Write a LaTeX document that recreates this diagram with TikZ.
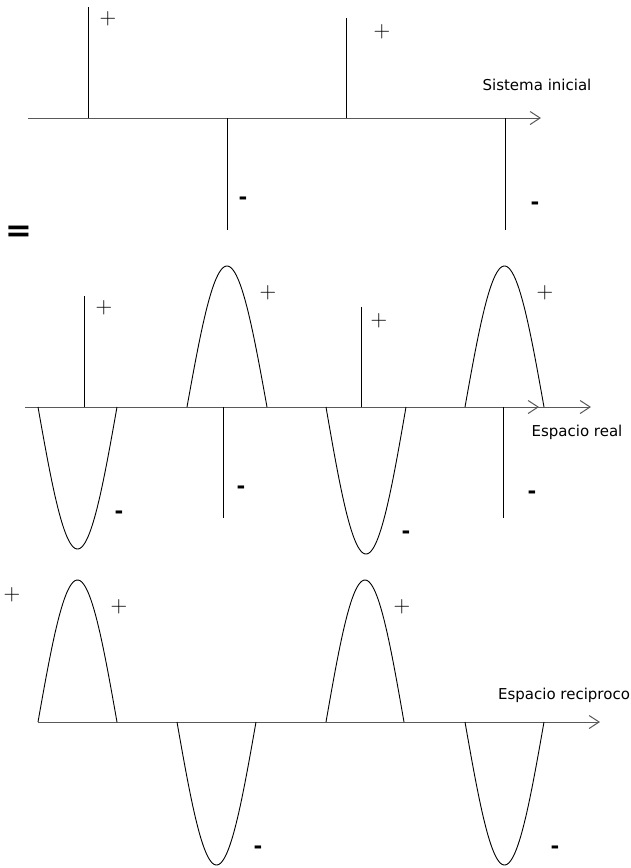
\documentclass[tikz,border=0pt]{standalone}
\usepackage{fontspec}
\newfontfamily\dejavu{DejaVu Sans}
\usetikzlibrary{arrows.meta}
\begin{document}
\begin{tikzpicture}[x=1pt,y=-1pt,
  axis/.style={draw=black!65, line width=1pt, -{Straight Barb[length=10pt,width=13pt]}},
  stem/.style={draw=black, line width=0.9pt},
  wave/.style={draw=black, line width=0.9pt},
  lbl/.style={font=\dejavu\fontsize{15}{18}\selectfont, inner sep=0pt},
  plussign/.style={font=\fontsize{23}{23}\selectfont, inner sep=0pt},
  minussign/.style={font=\dejavu\bfseries\fontsize{21}{21}\selectfont, inner sep=0pt},
  eqsign/.style={font=\dejavu\bfseries\fontsize{32}{32}\selectfont, inner sep=0pt}]
\useasboundingbox (0,0) rectangle (631,868);
\fill[white] (0,0) rectangle (631,868);

% ---------- Sistema inicial ----------
\coordinate (a1s) at (28,118);
\coordinate (a1e) at (541,118);
\draw[axis] (a1s) -- (a1e);
\coordinate (s1a) at (88,7);    \coordinate (s1b) at (88,118);
\coordinate (s2a) at (346,18);  \coordinate (s2b) at (346,118);
\coordinate (s3a) at (227,118); \coordinate (s3b) at (227,230);
\coordinate (s4a) at (505,118); \coordinate (s4b) at (505,230);
\draw[stem] (s1a) -- (s1b);
\draw[stem] (s2a) -- (s2b);
\draw[stem] (s3a) -- (s3b);
\draw[stem] (s4a) -- (s4b);
\node[plussign] (p11) at (108,19) {+};
\node[plussign] (p12) at (382,32) {+};
\node[minussign] (m11) at (243,201) {-};
\node[minussign] (m12) at (535,206) {-};
\node[lbl] (t1) at (537,85) {Sistema inicial};
\node[eqsign] (eq) at (19,234) {=};

% ---------- Espacio real ----------
\coordinate (a2s) at (25,407);
\coordinate (a2e) at (591,407);
\coordinate (a2m) at (525,407);
\coordinate (a2n) at (539,407);
\draw[axis] (a2s) -- (a2e);
\draw[axis] (a2m) -- (a2n);
\coordinate (r1a) at (84.5,296); \coordinate (r1b) at (84.5,407);
\coordinate (r2a) at (361,307);  \coordinate (r2b) at (361,407);
\coordinate (r3a) at (223,407);  \coordinate (r3b) at (223,518);
\coordinate (r4a) at (503,407);  \coordinate (r4b) at (503,518);
\draw[stem] (r1a) -- (r1b);
\draw[stem] (r2a) -- (r2b);
\draw[stem] (r3a) -- (r3b);
\draw[stem] (r4a) -- (r4b);
\draw[wave] plot[variable=\t,domain=0:180,samples=61] ({187+80*\t/180},{407-141*sin(\t)});
\draw[wave] plot[variable=\t,domain=0:180,samples=61] ({465+79*\t/180},{407-141*sin(\t)});
\draw[wave] plot[variable=\t,domain=0:180,samples=61] ({38+79*\t/180},{407+142*sin(\t)});
\draw[wave] plot[variable=\t,domain=0:180,samples=61] ({326+80*\t/180},{407+147*sin(\t)});
\node[plussign] (p21) at (104,308) {+};
\node[plussign] (p22) at (268,293) {+};
\node[plussign] (p23) at (379,321) {+};
\node[plussign] (p24) at (545,293) {+};
\node[minussign] (m21) at (119,515) {-};
\node[minussign] (m22) at (241,490) {-};
\node[minussign] (m23) at (406,535) {-};
\node[minussign] (m24) at (532,495) {-};
\node[lbl] (t2) at (577,432) {Espacio real};

% ---------- Espacio reciproco ----------
\coordinate (a3s) at (38,722);
\coordinate (a3e) at (600,722);
\draw[axis] (a3s) -- (a3e);
\draw[wave] plot[variable=\t,domain=0:180,samples=61] ({38+79*\t/180},{722-142*sin(\t)});
\draw[wave] plot[variable=\t,domain=0:180,samples=61] ({326+78*\t/180},{722-142*sin(\t)});
\draw[wave] plot[variable=\t,domain=0:180,samples=61] ({177+79*\t/180},{722+143*sin(\t)});
\draw[wave] plot[variable=\t,domain=0:180,samples=61] ({465+79*\t/180},{722+143*sin(\t)});
\node[plussign] (p30) at (12,595) {+};
\node[plussign] (p31) at (119,607) {+};
\node[plussign] (p32) at (402,607) {+};
\node[minussign] (m31) at (258,850) {-};
\node[minussign] (m32) at (555,850) {-};
\node[lbl] (t3) at (564,695) {Espacio reciproco};
\end{tikzpicture}
\end{document}
